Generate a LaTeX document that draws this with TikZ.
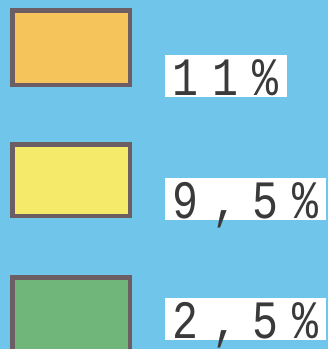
\documentclass[tikz,border=0pt]{standalone}
\usepackage{fontspec}
\usetikzlibrary{positioning}
\newfontfamily\dotfont{Liberation Mono}
\definecolor{sky}{HTML}{6FC6EA}
\definecolor{edge}{HTML}{6C5E62}
\definecolor{high}{HTML}{F5C45A}
\definecolor{mid}{HTML}{F6EA6A}
\definecolor{low}{HTML}{70B67A}
\definecolor{ink}{HTML}{3A3A3A}
\newcommand{\cel}[1]{\makebox[40pt][c]{\scalebox{0.8}[1]{#1}}}
\tikzset{swatch/.style={draw=edge,line width=4.5pt,minimum width=117.5pt,inner sep=0pt},lab/.style={fill=white,anchor=south west,align=left,inner xsep=0pt,inner ysep=1pt,text height=40pt,text depth=0pt,text=ink,font=\dotfont\fontsize{54}{54}\selectfont}}
\begin{document}
\begin{tikzpicture}[x=1pt,y=-1pt]
\useasboundingbox (0,0) rectangle (328,349);
\clip (0,0) rectangle (328,349);
\fill[sky] (0,0) rectangle (328,349);
\node[swatch,fill=high,minimum height=74.5pt] (s1) at (71,47.5) {};
\node[swatch,fill=mid,minimum height=71.5pt] (s2) at (71,180) {};
\node[swatch,fill=low,minimum height=73.5pt] (s3) at (71,314) {};
\node[lab,text width=122pt] (l1) at (165,97) {\cel{1}\cel{1}\cel{\%}};
\node[lab,text width=161pt] (l2) at (165,220) {\cel{9}\cel{,}\cel{5}\cel{\%}};
\node[lab,text width=161pt] (l3) at (165,340) {\cel{2}\cel{,}\cel{5}\cel{\%}};
\end{tikzpicture}
\end{document}
